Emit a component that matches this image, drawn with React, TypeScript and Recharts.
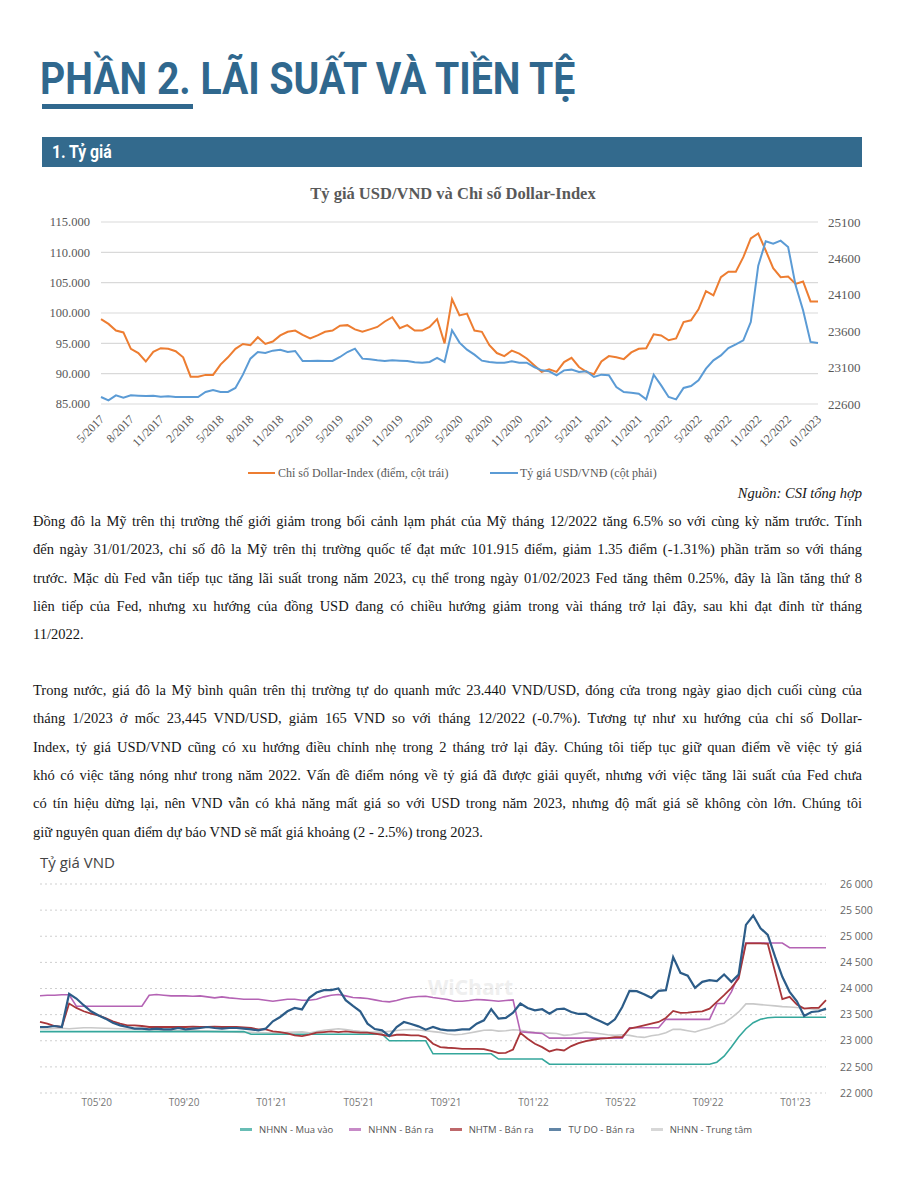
import React from 'react';
import { LineChart, Line, XAxis, YAxis, CartesianGrid } from 'recharts';

// ---- Chart 1: USD/VND vs Dollar Index (Excel style) ----
const fxTickLabels = [
  '5/2017', '8/2017', '11/2017', '2/2018', '5/2018', '8/2018', '11/2018', '2/2019', '5/2019',
  '8/2019', '11/2019', '2/2020', '5/2020', '8/2020', '11/2020', '2/2021', '5/2021', '8/2021',
  '11/2021', '2/2022', '5/2022', '8/2022', '11/2022', '12/2022', '01/2023',
];
const fxPointsPerTick = 4;

// Chỉ số Dollar-Index (điểm, cột trái)
const dollarIndex = [
  99.0, 98.2, 97.1, 96.8, 94.1, 93.4, 92.0, 93.6, 94.2, 94.1,
  93.7, 92.7, 89.5, 89.5, 89.8, 89.8, 91.5, 92.7, 94.1, 94.9,
  94.7, 96.0, 94.9, 95.3, 96.3, 96.9, 97.1, 96.4, 95.8, 96.3,
  96.9, 97.1, 97.9, 98.0, 97.3, 96.9, 97.3, 97.7, 98.6, 99.3,
  97.5, 98.0, 97.1, 97.1, 97.7, 99.0, 95.0, 102.3, 99.6, 99.9,
  97.1, 96.9, 94.7, 93.4, 92.9, 93.8, 93.3, 92.5, 91.4, 90.3,
  90.7, 90.3, 91.9, 92.6, 91.1, 90.3, 89.9, 92.0, 92.9, 92.7,
  92.4, 93.5, 94.1, 94.2, 96.5, 96.3, 95.5, 95.8, 98.5, 98.8,
  100.6, 103.6, 102.9, 105.9, 106.8, 106.8, 109.2, 112.3, 113.1, 110.3,
  107.4, 105.9, 106.0, 104.8, 105.2, 101.9, 101.9,
];

// Tỷ giá USD/VNĐ (cột phải)
const usdVndRate = [
  22696, 22650, 22719, 22687, 22719, 22714, 22710, 22714, 22701, 22705,
  22696, 22696, 22696, 22696, 22765, 22792, 22765, 22765, 22820, 23003,
  23223, 23314, 23301, 23333, 23346, 23314, 23328, 23191, 23191, 23195,
  23191, 23191, 23246, 23314, 23360, 23223, 23214, 23200, 23191, 23200,
  23195, 23191, 23172, 23168, 23177, 23232, 23177, 23612, 23443, 23346,
  23278, 23195, 23177, 23168, 23168, 23186, 23168, 23168, 23108, 23062,
  23049, 22994, 23062, 23072, 23040, 23049, 22971, 23003, 22994, 22834,
  22765, 22756, 22742, 22664, 23003, 22856, 22696, 22664, 22820, 22847,
  22925, 23085, 23200, 23268, 23369, 23420, 23475, 23726, 24500, 24835,
  24803, 24844, 24757, 24230, 23887, 23452, 23438,
];

const dxyTicks = [85, 90, 95, 100, 105, 110, 115];
const vndRightTicks = [22600, 23100, 23600, 24100, 24600, 25100];

// ---- Chart 2: Tỷ giá VND (WiChart style) ----
const vndTickLabels = ["T05'20", "T09'20", "T01'21", "T05'21", "T09'21", "T01'22", "T05'22", "T09'22", "T01'23"];
const vndTickMonths = [4, 8, 12, 16, 20, 24, 28, 32, 36];
const vndFirstMonth = 1.4;
const vndPointsPerMonth = 3;
const vndAxisTicks = [22000, 22500, 23000, 23500, 24000, 24500, 25000, 25500, 26000];

const nhnnBuy = [
  23175, 23175, 23175, 23175, 23175, 23175, 23175, 23175, 23175, 23175,
  23175, 23175, 23175, 23175, 23175, 23175, 23175, 23175, 23175, 23175,
  23175, 23175, 23175, 23175, 23175, 23175, 23175, 23175, 23175, 23125,
  23125, 23125, 23125, 23125, 23125, 23125, 23125, 23125, 23125, 23125,
  23125, 23125, 23125, 23125, 23125, 23125, 23125, 23125, 23000, 23000,
  23000, 23000, 23000, 23000, 22750, 22750, 22750, 22750, 22750, 22750,
  22750, 22750, 22750, 22650, 22650, 22650, 22650, 22650, 22650, 22650,
  22550, 22550, 22550, 22550, 22550, 22550, 22550, 22550, 22550, 22550,
  22550, 22550, 22550, 22550, 22550, 22550, 22550, 22550, 22550, 22550,
  22550, 22550, 22550, 22590, 22705, 22880, 23070, 23230, 23345, 23410,
  23440, 23450, 23450, 23450, 23450, 23450, 23450, 23450, 23450,
];

const nhnnSell = [
  23860, 23870, 23870, 23880, 23880, 23660, 23660, 23660, 23660, 23660,
  23660, 23660, 23660, 23660, 23660, 23870, 23885, 23872, 23859, 23859,
  23859, 23853, 23859, 23840, 23821, 23840, 23821, 23808, 23795, 23795,
  23795, 23776, 23756, 23776, 23795, 23795, 23776, 23776, 23795, 23840,
  23872, 23885, 23859, 23827, 23821, 23808, 23782, 23756, 23744, 23769,
  23808, 23834, 23846, 23853, 23827, 23808, 23789, 23756, 23756, 23769,
  23789, 23782, 23769, 23756, 23769, 23782, 23170, 23160, 23150, 23140,
  23050, 23050, 23050, 23050, 23050, 23050, 23050, 23050, 23050, 23050,
  23050, 23250, 23250, 23250, 23250, 23250, 23410, 23410, 23410, 23410,
  23410, 23410, 23410, 23712, 23712, 23936, 24256, 24870, 24870, 24870,
  24870, 24870, 24870, 24780, 24780, 24780, 24780, 24780, 24780,
];

const nhtmSell = [
  23359, 23327, 23282, 23263, 23712, 23628, 23564, 23519, 23487, 23436,
  23372, 23327, 23295, 23295, 23282, 23263, 23263, 23263, 23263, 23263,
  23263, 23270, 23263, 23263, 23270, 23263, 23263, 23263, 23256, 23244,
  23218, 23218, 23180, 23167, 23141, 23103, 23090, 23115, 23154, 23167,
  23180, 23167, 23180, 23167, 23154, 23154, 23135, 23115, 23090, 23115,
  23115, 23103, 23103, 23071, 22942, 22878, 22866, 22859, 22846, 22846,
  22846, 22840, 22808, 22763, 22769, 22833, 23150, 23038, 22942, 22878,
  22795, 22833, 22814, 22898, 22955, 22994, 23019, 23039, 23051, 23071,
  23071, 23231, 23263, 23295, 23327, 23359, 23436, 23571, 23532, 23538,
  23551, 23564, 23615, 23744, 23872, 24013, 24192, 24865, 24865, 24865,
  24853, 24321, 23795, 23840, 23692, 23615, 23628, 23628, 23776,
];

const freeSell = [
  23263, 23263, 23282, 23263, 23900, 23808, 23680, 23564, 23487, 23423,
  23346, 23295, 23263, 23231, 23231, 23218, 23231, 23218, 23218, 23244,
  23218, 23231, 23244, 23263, 23244, 23231, 23244, 23244, 23231, 23218,
  23199, 23231, 23372, 23455, 23564, 23628, 23600, 23821, 23923, 23968,
  23968, 24000, 23776, 23667, 23564, 23327, 23224, 23199, 23090, 23263,
  23359, 23321, 23276, 23212, 23263, 23218, 23199, 23199, 23218, 23218,
  23327, 23391, 23603, 23423, 23436, 23538, 23712, 23628, 23583, 23603,
  23519, 23603, 23615, 23551, 23513, 23513, 23436, 23372, 23308, 23410,
  23647, 23955, 23949, 23891, 23821, 23955, 23968, 24600, 24300, 24244,
  24013, 24128, 24160, 24141, 24269, 24128, 24269, 25218, 25397, 25154,
  25026, 24609, 24224, 23936, 23756, 23474, 23551, 23564, 23615,
];

const nhnnCentral = [
  23230, 23225, 23235, 23240, 23230, 23240, 23250, 23250, 23245, 23240,
  23235, 23230, 23225, 23220, 23215, 23210, 23205, 23200, 23195, 23190,
  23195, 23200, 23190, 23185, 23180, 23175, 23170, 23165, 23160, 23160,
  23155, 23150, 23145, 23150, 23160, 23165, 23170, 23150, 23175, 23200,
  23215, 23230, 23215, 23195, 23180, 23170, 23165, 23165, 23180, 23195,
  23210, 23215, 23205, 23190, 23175, 23160, 23130, 23115, 23125, 23150,
  23175, 23200, 23205, 23185, 23190, 23210, 23200, 23175, 23160, 23150,
  23145, 23140, 23103, 23115, 23141, 23167, 23154, 23135, 23115, 23103,
  23115, 23103, 23077, 23064, 23096, 23115, 23154, 23218, 23218, 23192,
  23167, 23212, 23244, 23295, 23340, 23436, 23551, 23705, 23705, 23692,
  23680, 23667, 23654, 23647, 23635, 23622, 23609, 23596, 23583,
];

const paragraphOne = [
  'Đồng đô la Mỹ trên thị trường thế giới giảm trong bối cảnh lạm phát của Mỹ tháng 12/2022 tăng 6.5% so với cùng kỳ năm trước. Tính',
  'đến ngày 31/01/2023, chỉ số đô la Mỹ trên thị trường quốc tế đạt mức 101.915 điểm, giảm 1.35 điểm (-1.31%) phần trăm so với tháng',
  'trước. Mặc dù Fed vẫn tiếp tục tăng lãi suất trong năm 2023, cụ thể trong ngày 01/02/2023 Fed tăng thêm 0.25%, đây là lần tăng thứ 8',
  'liên tiếp của Fed, nhưng xu hướng của đồng USD đang có chiều hướng giảm trong vài tháng trở lại đây, sau khi đạt đỉnh từ tháng',
  '11/2022.',
];
const paragraphTwo = [
  'Trong nước, giá đô la Mỹ bình quân trên thị trường tự do quanh mức 23.440 VND/USD, đóng cửa trong ngày giao dịch cuối cùng của',
  'tháng 1/2023 ở mốc 23,445 VND/USD, giảm 165 VND so với tháng 12/2022 (-0.7%). Tương tự như xu hướng của chỉ số Dollar-',
  'Index, tỷ giá USD/VND cũng có xu hướng điều chỉnh nhẹ trong 2 tháng trở lại đây. Chúng tôi tiếp tục giữ quan điểm về việc tỷ giá',
  'khó có việc tăng nóng như trong năm 2022. Vấn đề điểm nóng về tỷ giá đã được giải quyết, nhưng với việc tăng lãi suất của Fed chưa',
  'có tín hiệu dừng lại, nên VND vẫn có khả năng mất giá so với USD trong năm 2023, nhưng độ mất giá sẽ không còn lớn. Chúng tôi',
  'giữ nguyên quan điểm dự báo VND sẽ mất giá khoảng (2 - 2.5%) trong 2023.',
];

const vndSeries = [
  { key: 'central', name: 'NHNN - Trung tâm', color: '#c9c9c9', width: 1.6 },
  { key: 'buy', name: 'NHNN - Mua vào', color: '#35a79c', width: 1.6 },
  { key: 'sell', name: 'NHNN - Bán ra', color: '#b463b4', width: 1.6 },
  { key: 'nhtm', name: 'NHTM - Bán ra', color: '#a8363a', width: 1.8 },
  { key: 'free', name: 'TỰ DO - Bán ra', color: '#2c5c88', width: 2.2 },
];
const vndLegendOrder = ['buy', 'sell', 'nhtm', 'free', 'central'];

const fxRows = dollarIndex.map((dxy, i) => ({ i, dxy, vnd: usdVndRate[i] }));
const fxTicks = fxTickLabels.map((_, k) => k * fxPointsPerTick);

const vndRows = nhnnBuy.map((buy, i) => ({
  m: vndFirstMonth + i / vndPointsPerMonth,
  buy,
  sell: nhnnSell[i],
  nhtm: nhtmSell[i],
  free: freeSell[i],
  central: nhnnCentral[i],
}));

const SERIF = "'Liberation Serif', 'Times New Roman', serif";
const SANS = "'Open Sans', 'Noto Sans', sans-serif";
const BLUE_HEAD = '#30688e';

function SlantTick(props: any) {
  const { x, y, payload } = props;
  const label = fxTickLabels[Math.round(payload.value / fxPointsPerTick)];
  return (
    <g transform={`translate(${x + 1},${y + 5}) rotate(-45)`}>
      <text x={0} y={0} dy="0.35em" textAnchor="end" fontSize={12} fill="#595959" fontFamily={SERIF}>
        {label}
      </text>
    </g>
  );
}

const fmtSpace = (v: number) => `${Math.floor(v / 1000)} ${String(v % 1000).padStart(3, '0')}`;

function TextLines({ lines, top }: { lines: string[]; top: number }) {
  return (
    <>
      {lines.map((t, k) => (
        <div
          key={k}
          style={{
            position: 'absolute', left: 33, width: 829, top: top + k * 28.3,
            fontFamily: SERIF, fontSize: 14.5, lineHeight: '20px', color: '#161616',
            textAlign: 'justify', textAlignLast: k < lines.length - 1 ? 'justify' : 'left',
            whiteSpace: 'nowrap',
          }}
        >
          {t}
        </div>
      ))}
    </>
  );
}

export default function App() {
  return (
    <div style={{ position: 'absolute', left: 0, top: 0, width: 900, height: 1200, background: '#fff', overflow: 'hidden' }}>
      {/* page heading */}
      <div style={{ position: 'absolute', left: 40, top: 51, whiteSpace: 'nowrap', transform: 'scaleX(0.87)', transformOrigin: 'left top',
        fontFamily: 'Roboto', fontWeight: 700, fontSize: 45, lineHeight: '56px', color: BLUE_HEAD }}>
        PHẦN 2. LÃI SUẤT VÀ TIỀN TỆ
      </div>
      <div style={{ position: 'absolute', left: 42, top: 104, width: 151, height: 5, background: BLUE_HEAD }} />
      <div style={{ position: 'absolute', left: 42, top: 137, width: 820, height: 30, background: '#336a8d' }} />
      <div style={{ position: 'absolute', left: 52, top: 137, lineHeight: '30px', color: '#fff', fontFamily: 'Roboto', fontWeight: 700,
        fontSize: 17.5, transform: 'scaleX(0.9)', transformOrigin: 'left center' }}>
        1. Tỷ giá
      </div>

      {/* chart 1 */}
      <div style={{ position: 'absolute', left: 0, top: 184, width: 900, textAlign: 'center', paddingLeft: 6, boxSizing: 'border-box',
        fontFamily: SERIF, fontWeight: 700, fontSize: 16.5, color: '#595959' }}>
        Tỷ giá USD/VND và Chỉ số Dollar-Index
      </div>
      <div style={{ position: 'absolute', left: 0, top: 180 }}>
        <LineChart width={900} height={300} data={fxRows} margin={{ top: 42, right: 22, left: 41, bottom: 26 }}>
          <CartesianGrid vertical={false} stroke="#d9d9d9" strokeWidth={1.2} yAxisId="left" />
          <XAxis type="number" dataKey="i" domain={[0, fxRows.length - 1]} ticks={fxTicks} interval={0}
            axisLine={false} tickLine={false} height={50} tick={<SlantTick />} />
          <YAxis yAxisId="left" domain={[85, 115]} ticks={dxyTicks} axisLine={false} tickLine={false} width={60} tickMargin={5}
            tickFormatter={(v: number) => v.toFixed(3)} tick={{ fill: '#595959', fontSize: 12.5, fontFamily: SERIF }} />
          <YAxis yAxisId="right" orientation="right" domain={[22600, 25100]} ticks={vndRightTicks} axisLine={false} tickLine={false}
            width={60} tickMargin={4} tick={{ fill: '#595959', fontSize: 13, fontFamily: SERIF }} />
          <Line yAxisId="left" type="linear" dataKey="dxy" stroke="#ED7D31" strokeWidth={2} dot={false} isAnimationActive={false} />
          <Line yAxisId="right" type="linear" dataKey="vnd" stroke="#5B9BD5" strokeWidth={2} dot={false} isAnimationActive={false} />
        </LineChart>
      </div>
      {/* chart 1 legend */}
      <div style={{ position: 'absolute', left: 248, top: 472, width: 27, height: 2, background: '#ED7D31' }} />
      <div style={{ position: 'absolute', left: 278, top: 464, fontFamily: SERIF, fontSize: 12, lineHeight: '18px', color: '#595959' }}>
        Chỉ số Dollar-Index (điểm, cột trái)
      </div>
      <div style={{ position: 'absolute', left: 490, top: 472, width: 28, height: 2, background: '#5B9BD5' }} />
      <div style={{ position: 'absolute', left: 520, top: 464, fontFamily: SERIF, fontSize: 12, lineHeight: '18px', color: '#595959' }}>
        Tỷ giá USD/VNĐ (cột phải)
      </div>
      <div style={{ position: 'absolute', right: 38, top: 483, fontFamily: SERIF, fontStyle: 'italic', fontSize: 14.5, lineHeight: '20px', color: '#161616' }}>
        Nguồn: CSI tổng hợp
      </div>

      <TextLines lines={paragraphOne} top={511} />
      <TextLines lines={paragraphTwo} top={680} />

      {/* chart 2 */}
      <div style={{ position: 'absolute', left: 40, top: 851, fontFamily: SANS, fontSize: 15, lineHeight: '22px', color: '#444' }}>
        Tỷ giá VND
      </div>
      <div style={{ position: 'absolute', left: 428, top: 973, fontFamily: SANS, fontWeight: 700, fontSize: 21, color: '#efefef' }}>
        WiChart
      </div>
      <div style={{ position: 'absolute', left: 0, top: 850 }}>
        <LineChart width={900} height={300} data={vndRows} margin={{ top: 34, right: 14, left: 40, bottom: 37 }}>
          <CartesianGrid vertical={false} stroke="#cfcfcf" strokeDasharray="2 3" />
          <XAxis type="number" dataKey="m" domain={[vndFirstMonth, vndFirstMonth + (vndRows.length - 1) / vndPointsPerMonth]}
            ticks={vndTickMonths} interval={0} axisLine={false} tickLine={false} height={20} tickMargin={0}
            tickFormatter={(v: number) => vndTickLabels[vndTickMonths.indexOf(v)]}
            tick={{ fill: '#777', fontSize: 10, fontFamily: SANS }} />
          <YAxis orientation="right" domain={[22000, 26000]} ticks={vndAxisTicks} axisLine={false} tickLine={false} width={60}
            tickMargin={8} tickFormatter={fmtSpace} tick={{ fill: '#666', fontSize: 10.5, fontFamily: SANS }} />
          {vndSeries.map((s) => (
            <Line key={s.key} type="linear" dataKey={s.key} name={s.name} stroke={s.color} strokeWidth={s.width}
              dot={false} isAnimationActive={false} />
          ))}
        </LineChart>
      </div>
      {/* chart 2 legend */}
      <div style={{ position: 'absolute', left: 240, top: 1120, display: 'flex', gap: 16, alignItems: 'center', height: 18 }}>
        {vndLegendOrder.map((k) => {
          const s = vndSeries.find((q) => q.key === k)!;
          return (
            <div key={k} style={{ display: 'flex', alignItems: 'center', gap: 7 }}>
              <div style={{ width: 12, height: 3, background: s.color, opacity: 0.75 }} />
              <span style={{ fontFamily: SANS, fontSize: 9.5, color: '#555' }}>{s.name}</span>
            </div>
          );
        })}
      </div>
    </div>
  );
}
